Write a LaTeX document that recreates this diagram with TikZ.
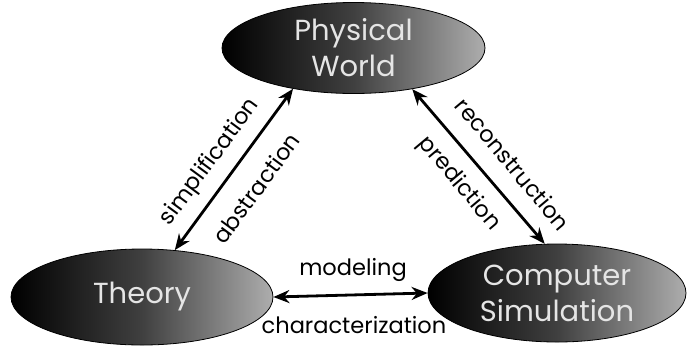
\documentclass[tikz,border=0pt]{standalone}
\usepackage{fontspec}
\setmainfont{Poppins}
\usetikzlibrary{shapes.geometric,arrows.meta}
\tikzset{
  world/.style={ellipse, draw=black, line width=0.8pt, left color=black,
    right color=black!32, middle color=black!75, text=white!90!black, align=center,
    font=\fontsize{29}{36}\selectfont, inner sep=0pt},
  link/.style={line width=2.8pt,
    {Stealth[length=16pt,width=13pt]}-{Stealth[length=16pt,width=13pt]}},
  lbl/.style={font=\fontsize{22.5}{26}\selectfont, inner sep=0pt}
}
\begin{document}
\begin{tikzpicture}[x=1pt,y=-1pt]
\useasboundingbox (0,0) rectangle (687,349);
% the three domains
\node[world, minimum width=263pt, minimum height=91pt] (pw) at (353.5,48) {Physical\\World};
\node[world, minimum width=262pt, minimum height=96pt] (th) at (142,297) {Theory};
\node[world, minimum width=258pt, minimum height=98pt] (cs) at (557,293) {Computer\\Simulation};
% relations between them
\draw[link] (pw.214) -- (th.55);
\draw[link] (pw.-35) -- (cs.104);
\draw[link] (th.east) -- (cs.west);
% relation labels
\node[lbl, rotate=53.6] (simp) at (210,162) {simplification};
\node[lbl, rotate=53.6] (abst) at (256,188) {abstraction};
\node[lbl, rotate=-50] (reco) at (513,164) {reconstruction};
\node[lbl, rotate=-50] (pred) at (459,184) {prediction};
\node[lbl] (mode) at (353,270) {modeling};
\node[lbl] (char) at (354,325) {characterization};
\end{tikzpicture}
\end{document}
